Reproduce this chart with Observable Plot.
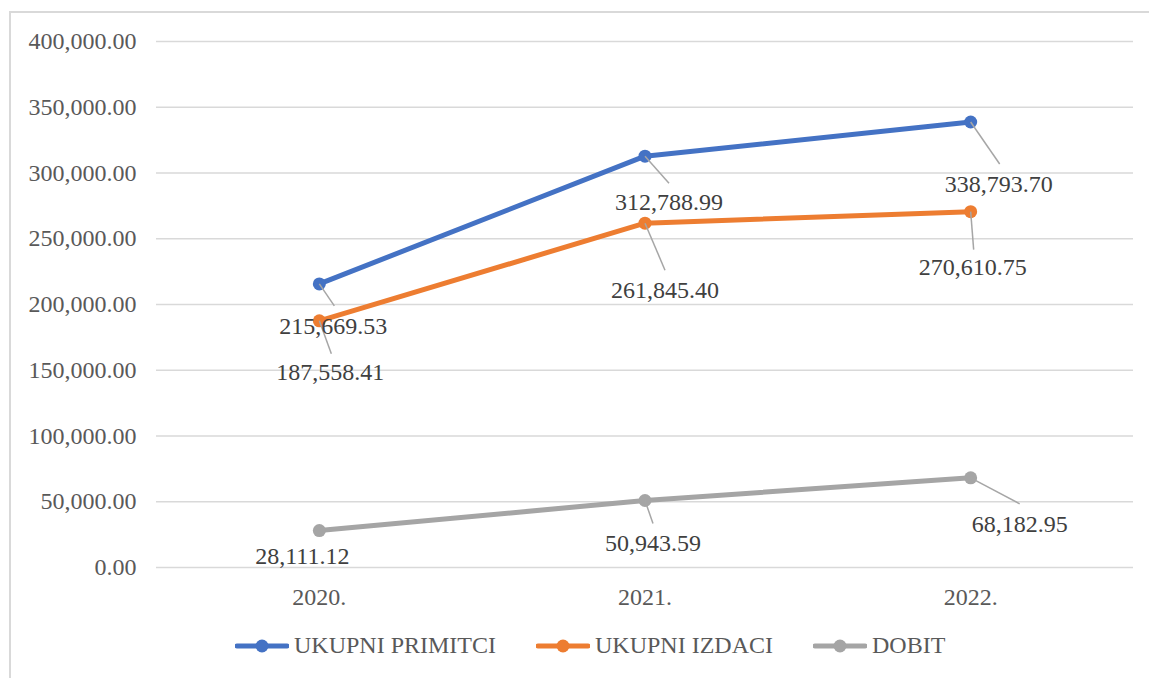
<!DOCTYPE html>
<html>
<head>
<meta charset="utf-8">
<script src="https://cdn.jsdelivr.net/npm/d3@7"></script>
<script src="https://cdn.jsdelivr.net/npm/@observablehq/plot@0.6"></script>
<style>
  html, body { margin: 0; padding: 0; background: #fff; }
  #wrap { position: relative; width: 1149px; height: 678px; overflow: hidden; font-family: "Liberation Serif", "Times New Roman", serif; }
  #frame { position: absolute; left: 9px; top: 11px; width: 1300px; height: 800px; border-top: 2px solid #d9d9d9; border-left: 2px solid #d9d9d9; }
  #chart { position: absolute; left: 0; top: 0; }
  #legend { position: absolute; left: 235px; top: 632px; display: flex; align-items: center; font-size: 24px; color: #595959; white-space: nowrap; }
  .item { display: flex; align-items: center; margin-right: 40px; }
  .item svg { margin-right: 5px; }
</style>
</head>
<body>
<div id="wrap">
  <div id="frame"></div>
  <div id="chart"></div>
  <div id="legend"></div>
</div>
<script>
// ---- data ----
const years = [2020, 2021, 2022];
const seriesNames = ["UKUPNI PRIMITCI", "UKUPNI IZDACI", "DOBIT"];
const primitci = [215669.53, 312788.99, 338793.70];
const izdaci = [187558.41, 261845.40, 270610.75];
const dobit = [28111.12, 50943.59, 68182.95];
const yTicks = [0, 50000, 100000, 150000, 200000, 250000, 300000, 350000, 400000];
const colors = ["#4472C4", "#ED7D31", "#A5A5A5"];

// label placement (pixel offsets of label centre from its point), per series per year
const labelOffsets = [
  [[14, 42], [24, 46], [28, 62]],
  [[11, 51], [20, 67], [2, 56]],
  [[-17, 26], [8, 43], [49, 46]]
];
// leader line ends (pixel offsets from point); null = no leader
const leaderEnds = [
  [[15, 22], [24, 27], [29, 42]],
  [[12, 33], [20, 47], [3, 38]],
  [null, [8, 23], [49, 26]]
];

// ---- layout ----
const W = 1149, H = 610, mL = 156, mR = 16, mT = 41, mB = 43;
const xDomain = [2019.5, 2022.5], yDomain = [0, 400000];
const pxPerYear = (W - mL - mR) / (xDomain[1] - xDomain[0]);
const unitsPerPx = (yDomain[1] - yDomain[0]) / (H - mT - mB);

const seriesValues = [primitci, izdaci, dobit];
const rows = [];
const leaders = [];
seriesValues.forEach((vals, s) => {
  vals.forEach((v, i) => {
    const [ox, oy] = labelOffsets[s][i];
    rows.push({
      series: seriesNames[s], year: years[i], value: v,
      lx: years[i] + ox / pxPerYear, ly: v - oy * unitsPerPx
    });
    const le = leaderEnds[s][i];
    if (le) leaders.push({
      x1: years[i], y1: v,
      x2: years[i] + le[0] / pxPerYear, y2: v - le[1] * unitsPerPx
    });
  });
});

const fmt = d3.format(",.2f");
const font = "'Liberation Serif', 'Times New Roman', serif";

const chart = Plot.plot({
  width: W, height: H,
  marginLeft: mL, marginRight: mR, marginTop: mT, marginBottom: mB,
  style: { fontFamily: font, fontSize: "24px", color: "#595959", background: "transparent", overflow: "visible" },
  x: { domain: xDomain, ticks: years, tickFormat: d => d + ".", tickSize: 0, tickPadding: 20, label: null },
  y: { domain: yDomain, ticks: yTicks, tickFormat: fmt, tickSize: 0, tickPadding: 20, label: null },
  color: { domain: seriesNames, range: colors },
  marks: [
    Plot.ruleY(yTicks, { stroke: "#d9d9d9", strokeWidth: 1.5 }),
    Plot.line(rows, { x: "year", y: "value", z: "series", stroke: "series", strokeWidth: 5, strokeLinejoin: "round", strokeLinecap: "round" }),
    Plot.dot(rows, { x: "year", y: "value", fill: "series", r: 6.5 }),
    Plot.link(leaders, { x1: "x1", y1: "y1", x2: "x2", y2: "y2", stroke: "#a6a6a6", strokeWidth: 1.5 }),
    Plot.text(rows, { x: "lx", y: "ly", text: d => fmt(d.value), fill: "#404040", fontSize: 24, textAnchor: "middle", lineAnchor: "middle", fontFamily: font })
  ]
});
document.getElementById("chart").appendChild(chart);

// ---- legend ----
const legend = document.getElementById("legend");
seriesNames.forEach((name, i) => {
  const item = document.createElement("div");
  item.className = "item";
  item.innerHTML = `<svg width="54" height="16"><line x1="2" y1="8" x2="52" y2="8" stroke="${colors[i]}" stroke-width="5" stroke-linecap="round"/><circle cx="27" cy="8" r="6.5" fill="${colors[i]}"/></svg><span>${name}</span>`;
  legend.appendChild(item);
});
</script>
</body>
</html>
